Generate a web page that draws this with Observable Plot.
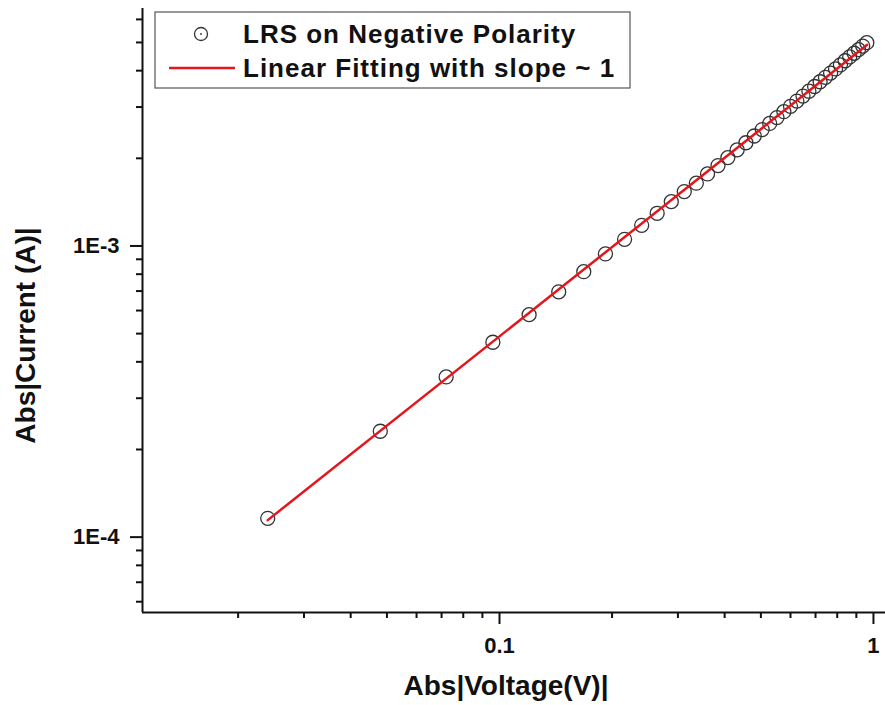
<!DOCTYPE html>
<html>
<head>
<meta charset="utf-8">
<script src="https://cdn.jsdelivr.net/npm/d3@7"></script>
<script src="https://cdn.jsdelivr.net/npm/@observablehq/plot@0.6"></script>
<style>
  html, body { margin: 0; padding: 0; background: #fff; }
  #chart { width: 885px; height: 705px; }
  svg { font-family: "Liberation Sans", Arial, sans-serif; }
</style>
</head>
<body>
<div id="chart"></div>
<script>
// Measured |I| versus |V| for the low resistance state, negative sweep
const voltage = [
  0.024, 0.048, 0.072, 0.096, 0.120, 0.144, 0.168, 0.192, 0.216, 0.240,
  0.264, 0.288, 0.312, 0.336, 0.360, 0.384, 0.408, 0.432, 0.456, 0.480,
  0.504, 0.528, 0.552, 0.576, 0.600, 0.624, 0.648, 0.672, 0.696, 0.720,
  0.744, 0.768, 0.792, 0.816, 0.840, 0.864, 0.888, 0.912, 0.936, 0.960
];
const current = [
  1.16e-4, 2.31e-4, 3.55e-4, 4.67e-4, 5.81e-4, 6.96e-4, 8.16e-4, 9.39e-4, 1.054e-3, 1.177e-3,
  1.295e-3, 1.42e-3, 1.537e-3, 1.643e-3, 1.768e-3, 1.889e-3, 2.011e-3, 2.138e-3, 2.262e-3, 2.386e-3,
  2.510e-3, 2.635e-3, 2.760e-3, 2.892e-3, 3.018e-3, 3.145e-3, 3.272e-3, 3.400e-3, 3.529e-3, 3.665e-3,
  3.794e-3, 3.924e-3, 4.055e-3, 4.186e-3, 4.326e-3, 4.458e-3, 4.591e-3, 4.724e-3, 4.858e-3, 4.992e-3
];

// End points of the straight (slope ~ 1) fit on log-log axes
const fitVoltage = [0.024, 0.962];
const fitCurrent = [1.144e-4, 4.91e-3];

// Axis ticks
const xMajorTicks = [0.1, 1];
const xMajorLabels = ["0.1", "1"];
const xMinorTicks = [0.02, 0.03, 0.04, 0.05, 0.06, 0.07, 0.08, 0.09, 0.2, 0.3, 0.4, 0.5, 0.6, 0.7, 0.8, 0.9];
const yMajorTicks = [1e-4, 1e-3];
const yMajorLabels = ["1E-4", "1E-3"];
const yMinorTicks = [6e-5, 7e-5, 8e-5, 9e-5, 2e-4, 3e-4, 4e-4, 5e-4, 6e-4, 7e-4, 8e-4, 9e-4, 2e-3, 3e-3, 4e-3, 5e-3, 6e-3];

const xDomain = [0.0111, 1.077];
const yDomain = [5.51e-5, 6.54e-3];

const xTitle = "Abs|Voltage(V)|";
const yTitle = "Abs|Current (A)|";
const legendLabels = ["LRS on Negative Polarity", "Linear Fitting with slope ~ 1"];

const measured = voltage.map((v, i) => ({v, i: current[i]}));
const fit = fitVoltage.map((v, i) => ({v, i: fitCurrent[i]}));

const fontFamily = "Liberation Sans, Arial, sans-serif";
const axisColor = "#111";
const fitColor = "#e4161c";

const chart = Plot.plot({
  width: 885,
  height: 705,
  marginLeft: 142,
  marginRight: 0,
  marginTop: 8,
  marginBottom: 93,
  style: {fontFamily, background: "#fff", overflow: "visible"},
  x: {type: "log", domain: xDomain},
  y: {type: "log", domain: yDomain},
  marks: [
    // minor and major ticks (outward)
    Plot.axisX(xMinorTicks, {tickSize: 6, tickFormat: () => "", strokeWidth: 2, stroke: axisColor, label: null}),
    Plot.axisY(yMinorTicks, {tickSize: 6, tickFormat: () => "", strokeWidth: 2, stroke: axisColor, label: null}),
    Plot.axisX(xMajorTicks, {tickSize: 12, tickFormat: () => "", strokeWidth: 2, stroke: axisColor, label: null}),
    Plot.axisY(yMajorTicks, {tickSize: 12, tickFormat: () => "", strokeWidth: 2, stroke: axisColor, label: null}),
    // tick labels
    Plot.text(xMajorTicks, {
      x: d => d, frameAnchor: "bottom", dy: 40, textAnchor: "middle", lineAnchor: "bottom",
      text: (d, i) => xMajorLabels[i], fontSize: 22, fontWeight: "bold", fill: axisColor
    }),
    Plot.text(yMajorTicks, {
      y: d => d, frameAnchor: "left", dx: -23, textAnchor: "end", lineAnchor: "middle",
      text: (d, i) => yMajorLabels[i], fontSize: 22, fontWeight: "bold", fill: axisColor
    }),
    // axis lines
    Plot.ruleX([xDomain[0]], {stroke: axisColor, strokeWidth: 2}),
    Plot.ruleY([yDomain[0]], {stroke: axisColor, strokeWidth: 2}),
    // axis titles
    Plot.text([xTitle], {
      frameAnchor: "bottom", dx: -8, dy: 82, text: d => d, textAnchor: "middle",
      fontSize: 28, fontWeight: "bold", fill: axisColor, lineAnchor: "bottom"
    }),
    Plot.text([yTitle], {
      frameAnchor: "left", dx: -116, dy: 25, rotate: -90, text: d => d, textAnchor: "middle",
      fontSize: 28, fontWeight: "bold", fill: axisColor, lineAnchor: "middle"
    }),
    // data
    Plot.dot(measured, {x: "v", y: "i", r: 7, stroke: "#333", strokeWidth: 1.3, fill: "none"}),
    Plot.line(fit, {x: "v", y: "i", stroke: fitColor, strokeWidth: 2.5})
  ]
});

document.getElementById("chart").appendChild(chart);

// Legend box in the upper-left corner of the plot area
const svg = d3.select(chart);
const lg = svg.append("g").attr("font-family", fontFamily).attr("text-anchor", "start");
lg.append("rect")
  .attr("x", 155).attr("y", 12).attr("width", 475).attr("height", 76)
  .attr("fill", "#fff").attr("stroke", "#555").attr("stroke-width", 1.2);
lg.append("circle")
  .attr("cx", 201).attr("cy", 34).attr("r", 6.5)
  .attr("fill", "none").attr("stroke", "#333").attr("stroke-width", 1.3);
lg.append("circle")
  .attr("cx", 201).attr("cy", 34).attr("r", 0.9).attr("fill", "#333");
lg.append("line")
  .attr("x1", 169).attr("x2", 235).attr("y1", 68).attr("y2", 68)
  .attr("stroke", fitColor).attr("stroke-width", 2.5);
lg.selectAll("text.entry")
  .data(legendLabels)
  .join("text")
  .attr("class", "entry")
  .attr("x", 243)
  .attr("y", (d, i) => i === 0 ? 43 : 77)
  .attr("font-size", 26)
  .attr("font-weight", "bold")
  .attr("letter-spacing", 1)
  .attr("fill", "#111")
  .text(d => d);
</script>
</body>
</html>
